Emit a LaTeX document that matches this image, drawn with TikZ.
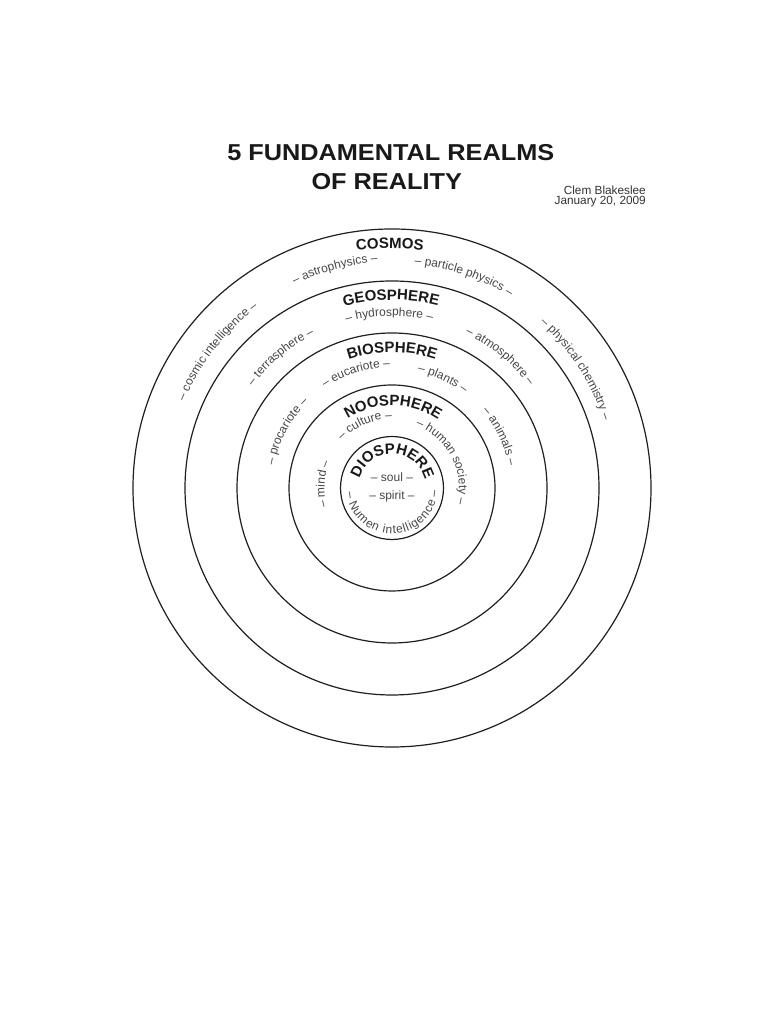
\documentclass[tikz,border=0pt]{standalone}
\usepackage{fontspec}
\setmainfont{Liberation Sans}
\usetikzlibrary{decorations.text,calc}
\newcommand\lblfont{\fontsize{12}{14}\selectfont\color{black!72}}
\newcommand\hdfont{\fontsize{15}{18}\selectfont\bfseries\color{black!90}}
\begin{document}
\begin{tikzpicture}[
  ring/.style={circle, draw=black!88, line width=1.2pt, inner sep=0pt},
  arclabel/.style={decorate, decoration={text along path, text={|\lblfont|#1}, text align=center}},
  fitlabel/.style={decorate, decoration={text along path, text={|\lblfont|#1}, text align=fit to path}},
  archead/.style={decorate, decoration={text along path, text={|\hdfont|#1}, text align=center}},
  titlefont/.style={font=\fontsize{23}{27}\selectfont\bfseries, text=black!90, inner sep=0pt, xscale=1.1},
  authorfont/.style={font=\fontsize{11.8}{14}\selectfont, text=black!80, inner sep=0pt},
]
\useasboundingbox[fill=white] (0,0) rectangle (768pt,1024pt);
\coordinate (C) at (392pt,536pt);

% title
\node[titlefont, anchor=base] (title1) at (390.8pt,863.3pt) {5 FUNDAMENTAL REALMS};
\node[titlefont, anchor=base] (title2) at (386.7pt,834pt) {OF REALITY};
\node[authorfont, anchor=base east] (author) at (646pt,829.7pt) {Clem Blakeslee};
\node[authorfont, anchor=base east] (date) at (646pt,819.3pt) {January 20, 2009};

% rings
\node[ring, minimum size=518pt] (cosmos) at (C) {};
\node[ring, minimum size=414pt] (geosphere) at (C) {};
\node[ring, minimum size=310pt] (biosphere) at (C) {};
\node[ring, minimum size=206pt] (noosphere) at (C) {};
\node[ring, minimum size=103pt] (diosphere) at (C) {};

% cosmos ring
\path[archead={COSMOS}] ($(C)+(120.5:239.6pt)$) arc[start angle=120.5, end angle=60.5, radius=239.6pt];
\path[arclabel={– astrophysics –}] ($(C)+(144.6:226pt)$) arc[start angle=144.6, end angle=64.6, radius=226pt];
\path[arclabel={– particle physics –}] ($(C)+(111.3:225pt)$) arc[start angle=111.3, end angle=31.3, radius=225pt];
\path[arclabel={– cosmic intelligence –}] ($(C)+(182:225pt)$) arc[start angle=182, end angle=102, radius=225pt];
\path[arclabel={– physical chemistry –}] ($(C)+(72.9:222pt)$) arc[start angle=72.9, end angle=-7.1, radius=222pt];

% geosphere ring
\path[archead={GEOSPHERE}] ($(C)+(125.3:188pt)$) arc[start angle=125.3, end angle=55.3, radius=188pt];
\path[arclabel={– hydrosphere –}] ($(C)+(130.9:172pt)$) arc[start angle=130.9, end angle=50.9, radius=172pt];
\path[arclabel={– terrasphere –}] ($(C)+(170.3:172.5pt)$) arc[start angle=170.3, end angle=90.3, radius=172.5pt];
\path[arclabel={– atmosphere –}] ($(C)+(90.6:171pt)$) arc[start angle=90.6, end angle=10.6, radius=171pt];

% biosphere ring
\path[archead={BIOSPHERE}] ($(C)+(130:135.6pt)$) arc[start angle=130, end angle=50, radius=135.6pt];
\path[arclabel={– eucariote –}] ($(C)+(147.4:120.5pt)$) arc[start angle=147.4, end angle=67.4, radius=120.5pt];
\path[arclabel={– plants –}] ($(C)+(105:119pt)$) arc[start angle=105, end angle=25, radius=119pt];
\path[arclabel={– procariote –}] ($(C)+(191.8:120pt)$) arc[start angle=191.8, end angle=111.8, radius=120pt];
\path[arclabel={– animals –}] ($(C)+(65.7:118.7pt)$) arc[start angle=65.7, end angle=-14.3, radius=118.7pt];

% noosphere ring
\path[archead={NOOSPHERE}] ($(C)+(144.2:82.5pt)$) arc[start angle=144.2, end angle=34.2, radius=82.5pt];
\path[arclabel={– culture –}] ($(C)+(153.3:69pt)$) arc[start angle=153.3, end angle=73.3, radius=69pt];
\path[arclabel={– human society –}] ($(C)+(87.6:67pt)$) arc[start angle=87.6, end angle=-32.4, radius=67pt];
\path[arclabel={– mind –}] ($(C)+(216.7:67.5pt)$) arc[start angle=216.7, end angle=136.7, radius=67.5pt];

% diosphere
\path[archead={DIOSPHERE}] ($(C)+(178.8:34pt)$) arc[start angle=178.8, end angle=-1.2, radius=34pt];
\path[fitlabel={– Numen intelligence –}] ($(C)+(185:45.8pt)$) arc[start angle=185, end angle=357, radius=45.8pt];
\node[anchor=base, font=\lblfont] (soul) at (392pt,542pt) {– soul –};
\node[anchor=base, font=\lblfont] (spirit) at (392pt,524pt) {– spirit –};
\end{tikzpicture}
\end{document}
